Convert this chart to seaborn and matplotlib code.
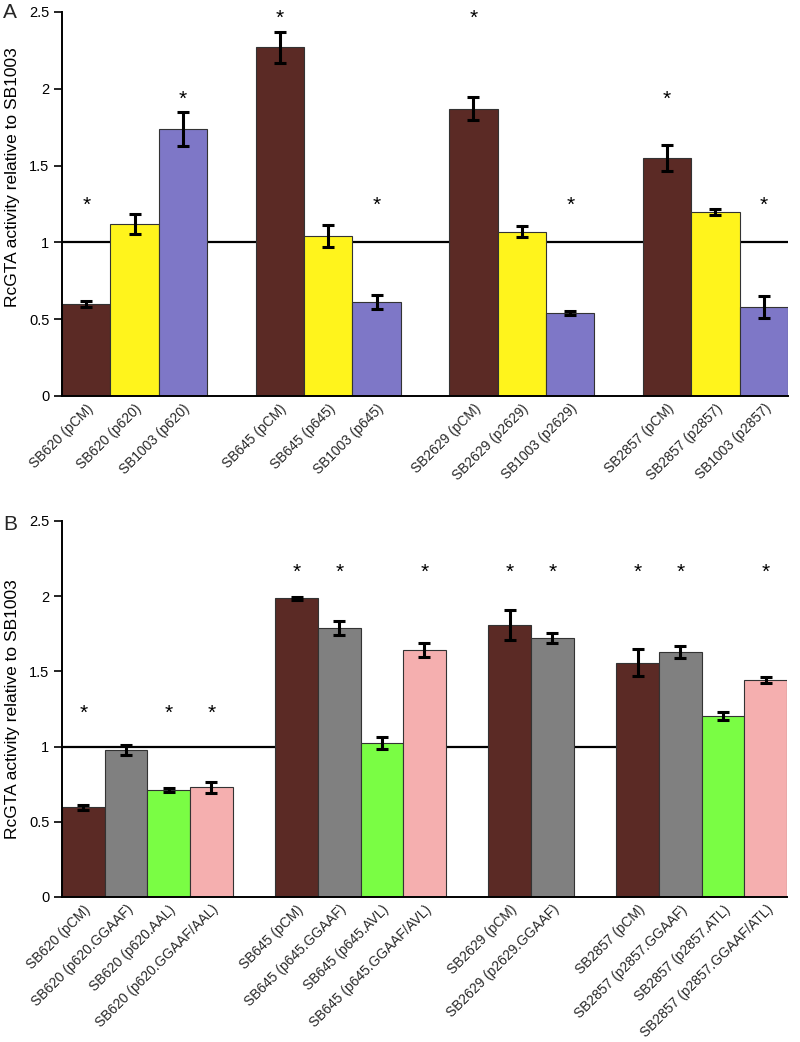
import numpy as np
import pandas as pd
import matplotlib
matplotlib.use("Agg")
import matplotlib.pyplot as plt
from matplotlib.ticker import FuncFormatter
import seaborn as sns

# ---------------- data ----------------
labels_A = ["SB620 (pCM)", "SB620 (p620)", "SB1003 (p620)",
            "SB645 (pCM)", "SB645 (p645)", "SB1003 (p645)",
            "SB2629 (pCM)", "SB2629 (p2629)", "SB1003 (p2629)",
            "SB2857 (pCM)", "SB2857 (p2857)", "SB1003 (p2857)"]
values_A = [0.60, 1.12, 1.74, 2.27, 1.04, 0.61, 1.87, 1.07, 0.54, 1.55, 1.20, 0.58]
errors_A = [0.02, 0.065, 0.11, 0.10, 0.07, 0.045, 0.075, 0.035, 0.015, 0.085, 0.02, 0.07]
types_A = ["pCM", "plasmid", "SB1003"] * 4
stars_A = [1.24, None, 1.93, 2.46, None, 1.24, 2.46, None, 1.24, 1.93, None, 1.24]
groups_A = [3, 3, 3, 3]

labels_B = ["SB620 (pCM)", "SB620 (p620.GGAAF)", "SB620 (p620.AAL)", "SB620 (p620.GGAAF/AAL)",
            "SB645 (pCM)", "SB645 (p645.GGAAF)", "SB645 (p645.AVL)", "SB645 (p645.GGAAF/AVL)",
            "SB2629 (pCM)", "SB2629 (p2629.GGAAF)",
            "SB2857 (pCM)", "SB2857 (p2857.GGAAF)", "SB2857 (p2857.ATL)", "SB2857 (p2857.GGAAF/ATL)"]
values_B = [0.595, 0.976, 0.712, 0.728, 1.987, 1.790, 1.025, 1.641, 1.808, 1.723,
            1.559, 1.626, 1.204, 1.442]
errors_B = [0.015, 0.035, 0.015, 0.035, 0.01, 0.045, 0.038, 0.045, 0.1, 0.035,
            0.09, 0.04, 0.025, 0.02]
types_B = ["pCM", "GGAAF", "single", "double",
           "pCM", "GGAAF", "single", "double",
           "pCM", "GGAAF",
           "pCM", "GGAAF", "single", "double"]
stars_B = [1.22, None, 1.22, 1.22, 2.16, 2.16, None, 2.16, 2.16, 2.16, 2.16, 2.16, None, 2.16]
groups_B = [4, 4, 2, 4]

palette = {"pCM": "#5B2A25", "plasmid": "#FFF41C", "SB1003": "#7E77C7",
           "GGAAF": "#808080", "single": "#7AFD44", "double": "#F5AFAF"}

yticks = [0, 0.5, 1, 1.5, 2, 2.5]
ylabel = "RcGTA activity relative to SB1003"

# ---------------- style ----------------
sns.set_theme(style="ticks")
plt.rcParams["font.family"] = ["Liberation Sans", "DejaVu Sans"]


def build_order(labels, groups):
    order, i = [], 0
    for g, n in enumerate(groups):
        order += labels[i:i + n]
        i += n
        if g < len(groups) - 1:
            order.append(" " * (g + 1))
    return order


def panel(ax, labels, values, errors, types, stars, groups, label_y):
    df = pd.DataFrame({"label": labels, "value": values, "type": types})
    order = build_order(labels, groups)
    ax.axhline(1.0, color="black", lw=1.6, zorder=0.5)
    sns.barplot(data=df, x="label", y="value", hue="type", order=order,
                palette=palette, dodge=False, width=1.0, legend=False,
                edgecolor="#333333", linewidth=0.8, saturation=1, ax=ax, zorder=2)
    pos = [order.index(l) for l in labels]
    ax.errorbar(pos, values, yerr=errors, fmt="none", ecolor="black",
                elinewidth=2.2, capsize=4, capthick=2.2, zorder=3)
    for p, s in zip(pos, stars):
        if s is not None:
            ax.text(p, s, "*", ha="center", va="center", fontsize=15, color="black")
    ax.set_xlim(-0.5, len(order) - 0.5)
    ax.set_ylim(0, 2.5)
    ax.set_yticks(yticks)
    ax.yaxis.set_major_formatter(FuncFormatter(lambda v, _: f"{v:g}"))
    ax.tick_params(axis="y", length=6, width=1.2, pad=3, labelsize=10.5, colors="black")
    ax.tick_params(axis="x", length=0, pad=4, labelsize=9.9)
    ax.set_xticks(range(len(order)))
    ax.set_xticklabels(order, rotation=45, ha="right", rotation_mode="anchor")
    ax.set_xlabel("")
    ax.set_ylabel(ylabel, fontsize=12.5, color="black")
    ax.yaxis.set_label_coords(-0.058, label_y)
    sns.despine(ax=ax)
    for sp in ("left", "bottom"):
        ax.spines[sp].set_linewidth(1.4)
        ax.spines[sp].set_color("black")


fig = plt.figure(figsize=(8, 10.42), dpi=100)
axA = fig.add_axes([0.0775, 0.620, 0.9075, 0.3685])
axB = fig.add_axes([0.0775, 0.1392, 0.9062, 0.3608])

panel(axA, labels_A, values_A, errors_A, types_A, stars_A, groups_A, 0.57)
panel(axB, labels_B, values_B, errors_B, types_B, stars_B, groups_B, 0.5)

fig.text(0.004, 0.997, "A", fontsize=15, va="top", ha="left")
fig.text(0.004, 0.506, "B", fontsize=15, va="top", ha="left")

fig.savefig("out.png", dpi=100, facecolor="white")
